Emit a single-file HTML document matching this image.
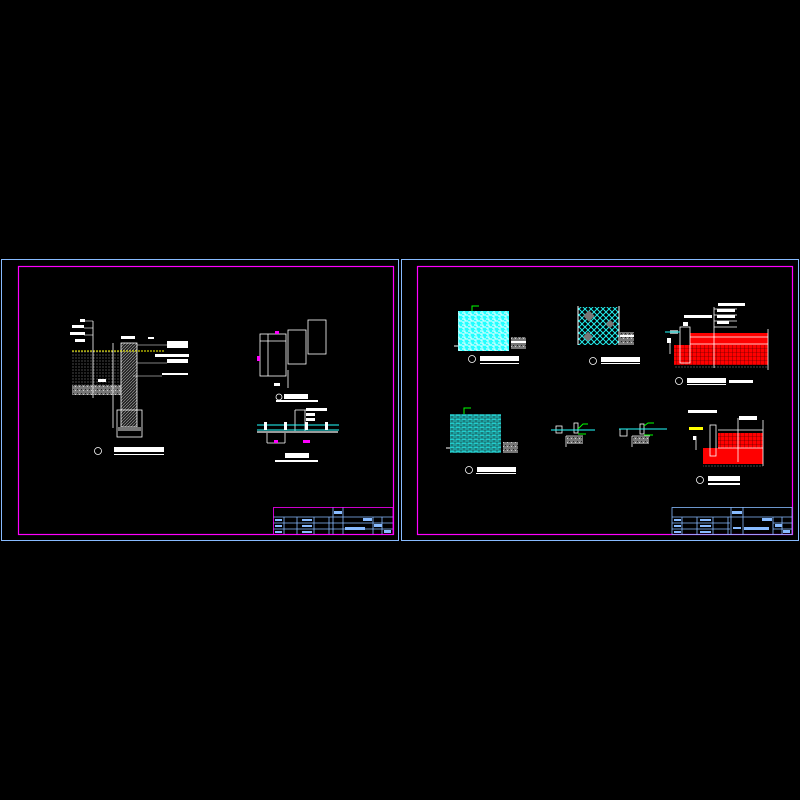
<!DOCTYPE html>
<html><head><meta charset="utf-8"><style>
html,body{margin:0;padding:0;background:#000;width:800px;height:800px;overflow:hidden}
svg{display:block}
text{font-family:"Liberation Sans","Noto Sans CJK SC",sans-serif;fill:#fff}
</style></head><body>
<svg width="800" height="800" viewBox="0 0 800 800" xmlns="http://www.w3.org/2000/svg">
<defs>
<pattern id="herr" width="6" height="6" patternUnits="userSpaceOnUse"><rect width="6" height="6" fill="#2ff"/><path d="M0 1h3v2h3M0 4h2v2" stroke="#fff" stroke-width="0.9" fill="none"/></pattern>
<pattern id="diam" width="6" height="6" patternUnits="userSpaceOnUse"><rect width="6" height="6" fill="#000"/><path d="M0 0L6 6M6 0L0 6" stroke="#2ee" stroke-width="1"/></pattern>
<pattern id="brick" width="6" height="4" patternUnits="userSpaceOnUse"><rect width="6" height="4" fill="#2cc"/><path d="M0 0h6M0 2h6M2 0v2M5 2v2" stroke="#111" stroke-width="0.5"/></pattern>
<pattern id="redp" width="4" height="4" patternUnits="userSpaceOnUse"><rect width="4" height="4" fill="#f00"/><path d="M0 0h4M0 0v4" stroke="#300" stroke-width="0.6"/></pattern>
<pattern id="dots" width="3" height="3" patternUnits="userSpaceOnUse"><rect width="3" height="3" fill="#000"/><circle cx="1" cy="1" r="0.5" fill="#bbb"/></pattern>
<pattern id="hatch" width="3" height="3" patternUnits="userSpaceOnUse"><rect width="3" height="3" fill="#222"/><path d="M0 3L3 0" stroke="#aaa" stroke-width="0.6"/></pattern>
<pattern id="grav" width="4" height="4" patternUnits="userSpaceOnUse"><rect width="4" height="4" fill="#777"/><rect x="1" y="1" width="1" height="1" fill="#222"/><rect x="3" y="2" width="1" height="1" fill="#ccc"/></pattern>
</defs>

<!-- LEFT SHEET -->
<rect x="1.5" y="259.5" width="397" height="281" fill="none" stroke="#8bf" stroke-width="1"/>
<rect x="18.5" y="266.5" width="375" height="268" fill="none" stroke="#f0f" stroke-width="1.2"/>

<!-- section 1 -->
<rect x="72" y="351" width="50" height="34" fill="url(#dots)"/>
<rect x="72" y="385" width="50" height="10" fill="url(#grav)"/>
<rect x="121" y="343" width="16" height="84" fill="url(#hatch)" stroke="#fff" stroke-width="0.8"/>
<rect x="117" y="410" width="25" height="27" fill="none" stroke="#fff" stroke-width="0.8"/>
<rect x="118" y="427" width="23" height="4" fill="#777"/>
<line x1="72" y1="351" x2="165" y2="351" stroke="#ff0" stroke-width="1" stroke-dasharray="2,1"/>
<line x1="93" y1="321" x2="93" y2="398" stroke="#fff" stroke-width="0.8"/>
<line x1="113" y1="343" x2="113" y2="428" stroke="#fff" stroke-width="0.8"/>
<g fill="#fff">
<rect x="80" y="319" width="5" height="3"/><rect x="72" y="325" width="12" height="3"/><rect x="70" y="332" width="15" height="3"/><rect x="75" y="339" width="10" height="3"/>
<rect x="167" y="341" width="21" height="7"/><rect x="155" y="354" width="34" height="3"/><rect x="167" y="359" width="21" height="4"/><rect x="162" y="373" width="26" height="2"/>
<rect x="121" y="336" width="14" height="3"/><rect x="148" y="337" width="6" height="2"/>
<rect x="98" y="379" width="8" height="3"/>
</g>
<g stroke="#fff" stroke-width="0.6"><line x1="137" y1="345" x2="167" y2="345"/><line x1="137" y1="363" x2="167" y2="363"/><line x1="133" y1="376" x2="162" y2="376"/><line x1="84" y1="321" x2="93" y2="321"/><line x1="84" y1="328" x2="93" y2="328"/><line x1="84" y1="335" x2="93" y2="335"/></g>
<circle cx="98" cy="451" r="3.5" fill="none" stroke="#fff" stroke-width="0.8"/>
<rect x="114" y="447" width="50" height="5" fill="#fff"/><rect x="114" y="454" width="50" height="1" fill="#fff"/>

<!-- right details -->
<g fill="none" stroke="#fff" stroke-width="0.8">
<rect x="260" y="334" width="26" height="42"/>
<rect x="288" y="330" width="18" height="34"/>
<rect x="308" y="320" width="18" height="34"/>
<line x1="268" y1="334" x2="268" y2="376"/><line x1="260" y1="341" x2="286" y2="341"/>
<line x1="288" y1="370" x2="288" y2="388"/>
<line x1="295" y1="410" x2="295" y2="432"/><line x1="305" y1="410" x2="305" y2="432"/><line x1="295" y1="410" x2="327" y2="410"/>
<line x1="267" y1="432" x2="267" y2="443"/><line x1="285" y1="432" x2="285" y2="443"/><line x1="267" y1="443" x2="285" y2="443"/>
</g>
<rect x="275" y="331" width="4" height="3" fill="#f0f"/><rect x="257" y="356" width="3" height="5" fill="#f0f"/>
<rect x="274" y="383" width="6" height="3" fill="#fff"/>
<circle cx="279" cy="397" r="3" fill="none" stroke="#fff" stroke-width="0.8"/>
<rect x="284" y="394" width="24" height="5" fill="#fff"/><rect x="276" y="400" width="42" height="2" fill="#fff"/>
<rect x="306" y="408" width="21" height="3" fill="#fff"/><rect x="306" y="413" width="9" height="3" fill="#fff"/><rect x="306" y="418" width="9" height="3" fill="#fff"/>
<line x1="257" y1="425" x2="339" y2="425" stroke="#2ff" stroke-width="1"/>
<line x1="257" y1="430" x2="339" y2="430" stroke="#2ff" stroke-width="1"/>
<rect x="257" y="431" width="81" height="2" fill="#999"/>
<g fill="#fff"><rect x="264" y="422" width="3" height="8"/><rect x="284" y="422" width="3" height="8"/><rect x="305" y="422" width="3" height="8"/><rect x="325" y="422" width="3" height="8"/></g>
<rect x="274" y="440" width="4" height="3" fill="#f0f"/><rect x="303" y="440" width="7" height="3" fill="#f0f"/>
<rect x="285" y="453" width="24" height="5" fill="#fff"/><rect x="275" y="460" width="43" height="2" fill="#fff"/>

<!-- title block left -->
<g fill="none" stroke="#8bf" stroke-width="0.8">
<line x1="273" y1="517" x2="393" y2="517"/><line x1="273" y1="523" x2="393" y2="523"/><line x1="273" y1="529" x2="393" y2="529"/>
<line x1="284" y1="517" x2="284" y2="535"/><line x1="297" y1="517" x2="297" y2="535"/><line x1="314" y1="517" x2="314" y2="535"/>
<line x1="329" y1="517" x2="329" y2="535"/><line x1="333" y1="507" x2="333" y2="535"/><line x1="343" y1="507" x2="343" y2="535"/>
<line x1="373" y1="517" x2="373" y2="535"/><line x1="382" y1="517" x2="382" y2="535"/>
</g>
<rect x="273.5" y="507.5" width="119.5" height="27" fill="none" stroke="#f0f" stroke-width="0.8"/>
<g fill="#8bf"><rect x="334" y="511" width="8" height="3"/><rect x="275" y="519" width="7" height="2"/><rect x="275" y="525" width="7" height="2"/><rect x="275" y="531" width="7" height="2"/><rect x="302" y="519" width="10" height="2"/><rect x="302" y="525" width="10" height="2"/><rect x="302" y="531" width="10" height="2"/><rect x="345" y="527" width="20" height="3"/><rect x="363" y="518" width="9" height="3"/><rect x="374" y="524" width="8" height="3"/><rect x="384" y="530" width="7" height="3"/></g>

<!-- RIGHT SHEET -->
<rect x="401.5" y="259.5" width="397" height="281" fill="none" stroke="#8bf" stroke-width="1"/>
<rect x="417.5" y="266.5" width="375" height="268" fill="none" stroke="#f0f" stroke-width="1.2"/>

<!-- 1 -->
<rect x="458" y="311" width="51" height="40" fill="url(#herr)"/>
<path d="M472 311v-5h7" stroke="#0f0" fill="none" stroke-width="1"/>
<rect x="511" y="337" width="15" height="12" fill="url(#grav)"/><rect x="511" y="341" width="15" height="2" fill="#fff"/>
<line x1="454" y1="346" x2="458" y2="346" stroke="#fff"/>
<circle cx="472" cy="359" r="3.5" fill="none" stroke="#fff" stroke-width="0.8"/>
<rect x="480" y="356" width="39" height="5" fill="#fff"/><rect x="480" y="363" width="39" height="1" fill="#fff"/>
<!-- 2 -->
<rect x="578" y="307" width="41" height="38" fill="url(#diam)"/>
<line x1="578" y1="306" x2="578" y2="345" stroke="#fff"/><line x1="619" y1="306" x2="619" y2="345" stroke="#fff"/>
<rect x="585" y="312" width="8" height="8" fill="#777" transform="rotate(45 589 316)"/><rect x="585" y="333" width="7" height="7" fill="#777" transform="rotate(45 588 336)"/><rect x="607" y="321" width="6" height="6" fill="#777" transform="rotate(45 610 324)"/>
<rect x="620" y="332" width="14" height="13" fill="url(#grav)"/><rect x="620" y="335" width="14" height="2" fill="#fff"/>
<circle cx="593" cy="361" r="3.5" fill="none" stroke="#fff" stroke-width="0.8"/>
<rect x="601" y="357" width="39" height="5" fill="#fff"/><rect x="601" y="363" width="39" height="1" fill="#fff"/>
<!-- 3 -->
<rect x="674" y="345" width="94" height="20" fill="url(#redp)"/>
<rect x="690" y="333" width="78" height="12" fill="#f00"/>
<rect x="674" y="365" width="94" height="4" fill="url(#dots)"/>
<g fill="none" stroke="#fff" stroke-width="0.8">
<rect x="680" y="327" width="10" height="36"/><line x1="714" y1="307" x2="714" y2="368"/><line x1="768" y1="329" x2="768" y2="370"/>
<line x1="690" y1="337" x2="768" y2="337"/><line x1="690" y1="344" x2="768" y2="344"/><line x1="670" y1="343" x2="670" y2="354"/>
<line x1="714" y1="309" x2="737" y2="309"/><line x1="714" y1="315" x2="737" y2="315"/><line x1="714" y1="321" x2="737" y2="321"/><line x1="714" y1="327" x2="737" y2="327"/>
</g>
<g fill="#fff"><rect x="718" y="303" width="27" height="3"/><rect x="717" y="309" width="18" height="3"/><rect x="717" y="315" width="18" height="3"/><rect x="717" y="321" width="12" height="3"/><rect x="684" y="315" width="28" height="3"/><rect x="683" y="322" width="5" height="4"/><rect x="667" y="338" width="4" height="5"/></g>
<rect x="670" y="330" width="8" height="4" fill="#999"/>
<line x1="665" y1="332" x2="680" y2="332" stroke="#2ff"/>
<circle cx="679" cy="381" r="3.5" fill="none" stroke="#fff" stroke-width="0.8"/>
<rect x="687" y="378" width="39" height="5" fill="#fff"/><rect x="687" y="384" width="39" height="1" fill="#fff"/><rect x="729" y="380" width="24" height="3" fill="#fff"/>
<!-- 4 -->
<rect x="450" y="414" width="51" height="39" fill="url(#brick)"/>
<path d="M464 414v-6h7" stroke="#0f0" fill="none"/>
<rect x="503" y="442" width="15" height="11" fill="url(#grav)"/>
<line x1="446" y1="448" x2="450" y2="448" stroke="#fff"/>
<circle cx="469" cy="470" r="3.5" fill="none" stroke="#fff" stroke-width="0.8"/>
<rect x="477" y="467" width="39" height="5" fill="#fff"/><rect x="476" y="473" width="40" height="1" fill="#fff"/>
<!-- small details -->
<g stroke="#fff" stroke-width="0.8" fill="none"><rect x="574" y="423" width="4" height="10"/><line x1="566" y1="436" x2="583" y2="436"/><line x1="566" y1="436" x2="566" y2="447"/><rect x="556" y="426" width="6" height="7"/><rect x="640" y="424" width="4" height="10"/><line x1="632" y1="436" x2="650" y2="436"/><line x1="632" y1="436" x2="632" y2="447"/><rect x="620" y="429" width="7" height="7"/></g>
<rect x="567" y="436" width="16" height="8" fill="url(#grav)"/><rect x="633" y="436" width="16" height="8" fill="url(#grav)"/>
<line x1="551" y1="430" x2="595" y2="430" stroke="#2ff"/><line x1="619" y1="429" x2="667" y2="429" stroke="#2ff"/>
<path d="M578 429l5-5h5M644 426l4-3h6M578 434h8M644 435h9" stroke="#0f0" fill="none"/>
<!-- 5 -->
<rect x="703" y="448" width="60" height="16" fill="#f00"/>
<rect x="718" y="433" width="45" height="15" fill="url(#redp)"/>
<rect x="703" y="464" width="60" height="4" fill="url(#dots)"/>
<g fill="none" stroke="#fff" stroke-width="0.8"><rect x="710" y="425" width="6" height="31"/><line x1="738" y1="418" x2="738" y2="462"/><line x1="763" y1="420" x2="763" y2="466"/><line x1="718" y1="430" x2="763" y2="430"/><line x1="718" y1="448" x2="763" y2="448"/><line x1="696" y1="436" x2="696" y2="450"/></g>
<rect x="689" y="427" width="14" height="3" fill="#ff0"/>
<g fill="#fff"><rect x="688" y="410" width="29" height="3"/><rect x="739" y="416" width="18" height="4"/><rect x="693" y="436" width="3" height="4"/></g>
<circle cx="700" cy="480" r="3.5" fill="none" stroke="#fff" stroke-width="0.8"/>
<rect x="708" y="476" width="32" height="5" fill="#fff"/><rect x="708" y="483" width="32" height="2" fill="#fff"/>

<!-- title block right -->
<g fill="none" stroke="#8bf" stroke-width="0.8">
<rect x="672" y="507.5" width="120" height="27"/>
<line x1="672" y1="517" x2="792" y2="517"/><line x1="672" y1="523" x2="730" y2="523"/><line x1="672" y1="529" x2="730" y2="529"/><line x1="773" y1="523" x2="792" y2="523"/><line x1="773" y1="529" x2="792" y2="529"/>
<line x1="682" y1="517" x2="682" y2="535"/><line x1="697" y1="517" x2="697" y2="535"/><line x1="713" y1="517" x2="713" y2="535"/>
<line x1="728" y1="517" x2="728" y2="535"/><line x1="731" y1="507" x2="731" y2="535"/><line x1="743" y1="507" x2="743" y2="535"/>
<line x1="773" y1="517" x2="773" y2="535"/><line x1="782" y1="517" x2="782" y2="535"/>
</g>
<g fill="#8bf"><rect x="732" y="511" width="10" height="3"/><rect x="674" y="519" width="7" height="2"/><rect x="674" y="525" width="7" height="2"/><rect x="674" y="531" width="7" height="2"/><rect x="700" y="519" width="11" height="2"/><rect x="700" y="525" width="11" height="2"/><rect x="700" y="531" width="11" height="2"/><rect x="744" y="527" width="25" height="3"/><rect x="762" y="518" width="10" height="3"/><rect x="775" y="524" width="7" height="3"/><rect x="783" y="530" width="7" height="3"/><rect x="733" y="527" width="8" height="2"/></g>
</svg>
</body></html>
